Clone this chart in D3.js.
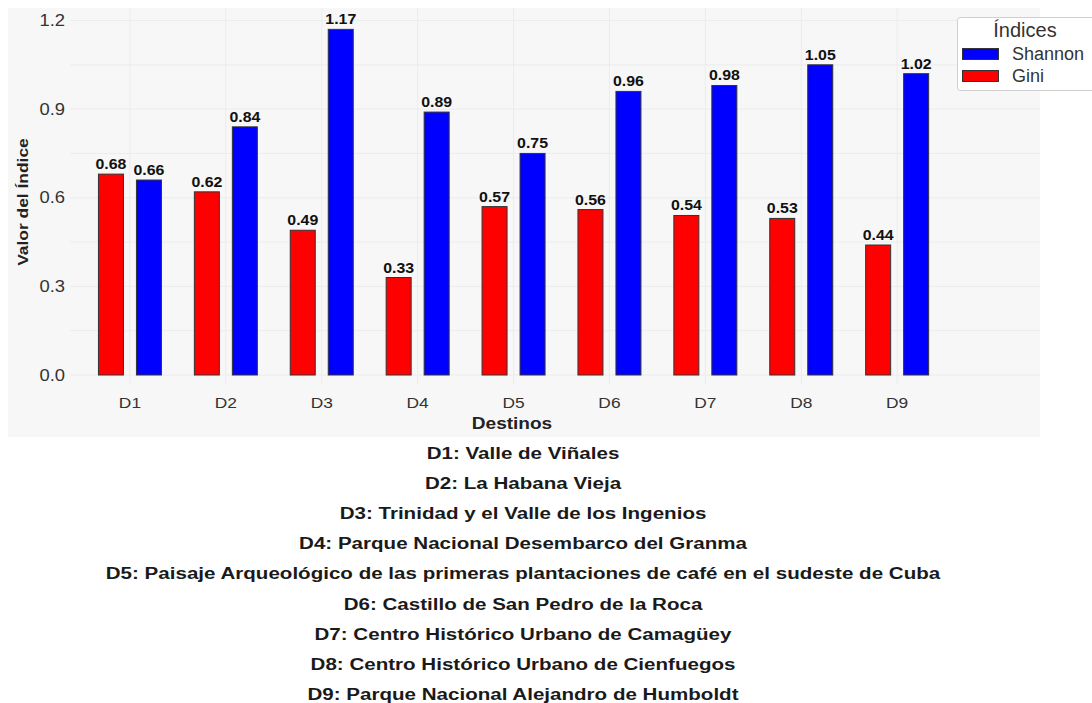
<!DOCTYPE html>
<html><head><meta charset="utf-8">
<script src="https://cdn.jsdelivr.net/npm/d3@7"></script>
<style>
html,body{margin:0;padding:0;background:#fff;}
svg{display:block;font-family:"Liberation Sans",Arial,Helvetica,sans-serif;}
</style></head>
<body><svg id="chart" width="1092" height="703"></svg>
<script>
const categories = ["D1","D2","D3","D4","D5","D6","D7","D8","D9"];
const series = ["Gini","Shannon"];
const giniValues = [0.68,0.62,0.49,0.33,0.57,0.56,0.54,0.53,0.44];
const shannonValues = [0.66,0.84,1.17,0.89,0.75,0.96,0.98,1.05,1.02];
const yTicks = [0.0,0.3,0.6,0.9,1.2];
const legendOrder = ["Shannon","Gini"];
const descriptions = [
  "D1: Valle de Viñales",
  "D2: La Habana Vieja",
  "D3: Trinidad y el Valle de los Ingenios",
  "D4: Parque Nacional Desembarco del Granma",
  "D5: Paisaje Arqueológico de las primeras plantaciones de café en el sudeste de Cuba",
  "D6: Castillo de San Pedro de la Roca",
  "D7: Centro Histórico Urbano de Camagüey",
  "D8: Centro Histórico Urbano de Cienfuegos",
  "D9: Parque Nacional Alejandro de Humboldt"
];
const colors = {Gini:"#ff0000", Shannon:"#0000ff"};
const valuesBySeries = {Gini: giniValues, Shannon: shannonValues};

const svg = d3.select("#chart");
// place text with horizontal stretch
function stext(parent, tx, ty, sx, str, opts) {
  const t = parent.append("text").attr("transform", `translate(${tx},${ty}) scale(${sx},1)`).text(str);
  Object.entries(opts||{}).forEach(([k,v])=>t.attr(k,v));
  return t;
}

// plot background
svg.append("rect").attr("x",8).attr("y",8).attr("width",1032).attr("height",429).attr("fill","#f7f7f7");

const x = d3.scaleBand().domain(categories).range([80.5, 943.6]).padding(0);
const xi = d3.scaleBand().domain(series).range([0, 63]).paddingInner(0.342).paddingOuter(0);
const y = d3.scaleLinear().domain([0,1.2]).range([375, 20.5]);

const grid = svg.append("g");
grid.selectAll("line.h").data(d3.range(0,1.2001,0.15)).join("line")
  .attr("x1",70).attr("x2",1040).attr("y1",d=>y(d)).attr("y2",d=>y(d))
  .attr("stroke","#ececec").attr("stroke-width",1);
grid.selectAll("line.v").data(categories).join("line")
  .attr("x1",d=>x(d)+x.bandwidth()/2+1.5).attr("x2",d=>x(d)+x.bandwidth()/2+1.5)
  .attr("y1",8).attr("y2",385).attr("stroke","#ececec").attr("stroke-width",1);

// y axis
const yAxis = d3.axisLeft(y).tickValues(yTicks).tickFormat(d3.format(".1f")).tickSize(0).tickPadding(0);
const ya = svg.append("g").attr("transform","translate(65,0)").call(yAxis);
ya.select(".domain").remove();
ya.selectAll("text").attr("font-size",16).attr("fill","#333").attr("transform","scale(1.15,1)")
  .attr("font-family","'Liberation Sans',Arial,sans-serif");

// x axis
const xAxis = d3.axisBottom(x).tickSize(0).tickPadding(0);
const xa = svg.append("g").attr("transform","translate(1.5,397)").call(xAxis);
xa.select(".domain").remove();
xa.selectAll("text").attr("font-size",15.5).attr("fill","#333").attr("dy","0.71em").attr("transform","scale(1.12,1)")
  .attr("font-family","'Liberation Sans',Arial,sans-serif");

// bars
const groups = svg.append("g").selectAll("g").data(categories).join("g")
  .attr("transform",d=>`translate(${x(d)+x.bandwidth()/2-31.5+1.5},0)`);
series.forEach(s=>{
  groups.append("rect")
    .attr("x",xi(s)).attr("width",xi.bandwidth())
    .attr("y",(d,i)=>y(valuesBySeries[s][i]))
    .attr("height",(d,i)=>y(0)-y(valuesBySeries[s][i]))
    .attr("fill",colors[s]).attr("stroke","#333").attr("stroke-width",1);
  groups.append("text")
    .attr("transform",(d,i)=>`translate(${xi(s)+xi.bandwidth()/2},${y(valuesBySeries[s][i])-5}) scale(1.06,1)`)
    .attr("text-anchor","middle").attr("font-size",15).attr("font-weight","bold").attr("fill","#111")
    .text((d,i)=>valuesBySeries[s][i].toFixed(2));
});

// axis titles
stext(svg, 512, 429, 1.19, "Destinos", {"text-anchor":"middle","font-size":16,"font-weight":"bold","fill":"#222"});
svg.append("text").attr("transform","translate(28,202) rotate(-90) scale(1.16,1)").attr("text-anchor","middle")
  .attr("font-size",15).attr("font-weight","bold").attr("fill","#222").text("Valor del Índice");

// legend
const lg = svg.append("g");
lg.append("rect").attr("x",957.5).attr("y",17.5).attr("width",150).attr("height",73).attr("rx",3)
  .attr("fill","#fff").attr("stroke","#cfcfcf");
stext(lg, 1025, 37, 1.0, "Índices", {"text-anchor":"middle","font-size":20,"fill":"#333"});
legendOrder.forEach((s,i)=>{
  lg.append("rect").attr("x",962.5).attr("y",48.5+i*22).attr("width",36).attr("height",11)
    .attr("fill",colors[s]).attr("stroke","#333");
  stext(lg, 1012, 60+i*22, 1.0, s, {"font-size":18,"fill":"#333"});
});

// descriptions
descriptions.forEach((d,i)=>{
  stext(svg, 523, 459+i*30.1, 1.21, d, {"text-anchor":"middle","font-size":17,"font-weight":"bold","fill":"#1a1a1a"});
});
</script></body></html>
